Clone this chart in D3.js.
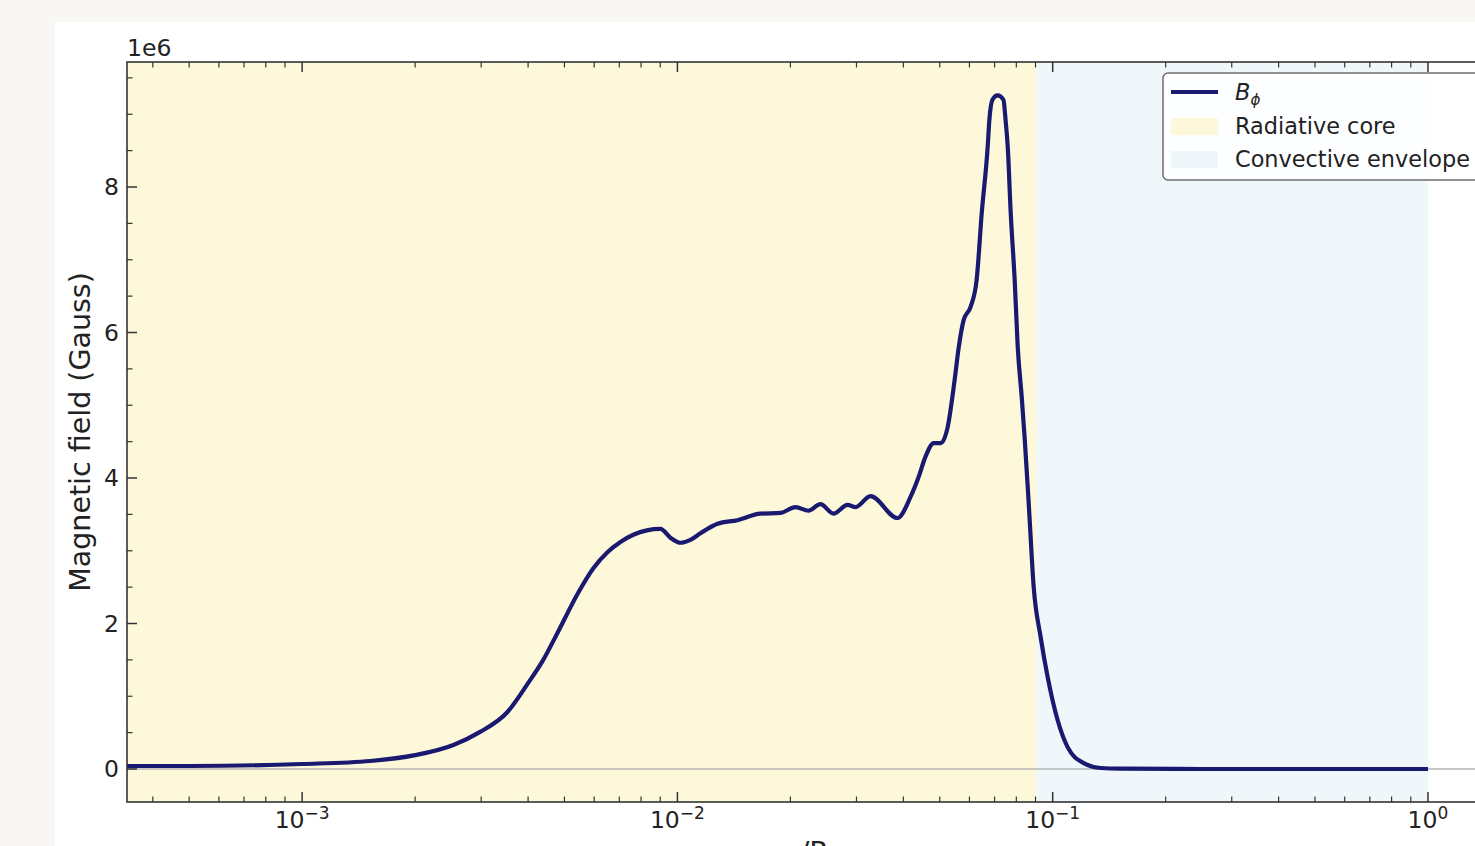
<!DOCTYPE html>
<html>
<head>
<meta charset="utf-8">
<script src="https://cdn.jsdelivr.net/npm/d3@7/dist/d3.min.js"></script>
<style>
  html, body { margin: 0; padding: 0; background: #f8f7f3; }
  svg { display: block; font-family: "DejaVu Sans", sans-serif; }
</style>
</head>
<body>
<svg id="chart" width="1475" height="846"></svg>
<script>
// Toroidal field profile B_phi against fractional radius r/R
const radius = [
  3.41e-4, 5.03e-4, 1.0e-3, 1.52e-3, 2.0e-3, 2.53e-3, 2.98e-3, 3.52e-3, 4.0e-3, 4.39e-3,
  4.79e-3, 5.45e-3, 5.97e-3, 6.51e-3, 7.05e-3, 7.63e-3, 9.01e-3, 9.58e-3, 1.019e-2, 1.083e-2,
  1.152e-2, 1.279e-2, 1.445e-2, 1.665e-2, 1.882e-2, 2.064e-2, 2.235e-2, 2.405e-2, 2.606e-2, 2.84e-2,
  2.983e-2, 3.27e-2, 3.86e-2, 4.18e-2, 4.39e-2, 4.58e-2, 4.82e-2, 5.03e-2, 5.25e-2, 5.48e-2,
  5.62e-2, 5.79e-2, 6.04e-2, 6.27e-2, 6.47e-2, 6.71e-2, 6.78e-2, 6.91e-2, 7.13e-2, 7.39e-2,
  7.49e-2, 7.59e-2, 7.73e-2, 7.92e-2, 8.07e-2, 8.27e-2, 8.42e-2, 8.63e-2, 8.90e-2, 9.29e-2,
  9.70e-2, 0.1031, 0.1096, 0.1210, 0.1343, 0.1518, 0.25, 1.0
];
const bPhi = [
  0.041e6, 0.041e6, 0.069e6, 0.11e6, 0.19e6, 0.33e6, 0.51e6, 0.78e6, 1.18e6, 1.50e6,
  1.87e6, 2.43e6, 2.76e6, 2.98e6, 3.12e6, 3.22e6, 3.30e6, 3.18e6, 3.11e6, 3.15e6,
  3.24e6, 3.37e6, 3.42e6, 3.51e6, 3.52e6, 3.60e6, 3.55e6, 3.64e6, 3.51e6, 3.63e6,
  3.60e6, 3.75e6, 3.45e6, 3.74e6, 4.01e6, 4.29e6, 4.48e6, 4.48e6, 4.70e6, 5.35e6,
  5.80e6, 6.17e6, 6.35e6, 6.72e6, 7.64e6, 8.55e6, 8.92e6, 9.20e6, 9.26e6, 9.20e6,
  8.92e6, 8.55e6, 7.64e6, 6.72e6, 5.80e6, 5.11e6, 4.55e6, 3.66e6, 2.50e6, 1.81e6,
  1.26e6, 0.67e6, 0.30e6, 0.08e6, 0.014e6, 0.005e6, 0.0, 0.0
];

// Zone boundaries (fractional radius)
const coreEdge = 0.0906;
const surface = 1.0;

// Tick definitions
const xMajorExps = [-3, -2, -1, 0];
const yMajor = [0, 2e6, 4e6, 6e6, 8e6];
const yTickLabels = ["0", "2", "4", "6", "8"];
const yOffsetLabel = "1e6";
const legendLabels = ["Radiative core", "Convective envelope"];

const colLine = "#191970";
const colCore = "#fef8db";
const colEnv = "#f0f7fa";
const colAxis = "#333333";

const svg = d3.select("#chart");
const W = 1475, H = 846;

// white panel
svg.append("rect").attr("x", 55).attr("y", 22).attr("width", W - 55).attr("height", H - 22).attr("fill", "#ffffff");

const L = 127, T = 62, B = 802, R = 1490;

const x = d3.scaleLog().domain([Math.pow(10, -3.4667), Math.pow(10, 0.1653)]).range([L, R]);
const y = d3.scaleLinear().domain([-0.4536e6, 9.7183e6]).range([B, T]);

svg.append("clipPath").attr("id", "plotclip")
  .append("rect").attr("x", L).attr("y", T).attr("width", R - L).attr("height", B - T);

const plot = svg.append("g").attr("clip-path", "url(#plotclip)");

// shaded zones
const xd = x.domain();
plot.append("rect").attr("x", x(xd[0])).attr("y", T)
  .attr("width", x(coreEdge) - x(xd[0])).attr("height", B - T).attr("fill", colCore);
plot.append("rect").attr("x", x(coreEdge)).attr("y", T)
  .attr("width", x(surface) - x(coreEdge)).attr("height", B - T).attr("fill", colEnv);

// zero reference line
plot.append("line").attr("x1", L).attr("x2", R).attr("y1", y(0)).attr("y2", y(0))
  .attr("stroke", "#b4b4b4").attr("stroke-width", 1.5);

// field profile
const pts = radius.map((r, i) => [r, bPhi[i]]);
const line = d3.line().x(d => x(d[0])).y(d => y(d[1])).curve(d3.curveMonotoneX);
plot.append("path").attr("d", line(pts)).attr("fill", "none")
  .attr("stroke", colLine).attr("stroke-width", 4.2).attr("stroke-linejoin", "round");

// spines
const ax = svg.append("g");
ax.append("rect").attr("x", L).attr("y", T).attr("width", R - L).attr("height", B - T)
  .attr("fill", "none").attr("stroke", colAxis).attr("stroke-width", 1.6);

// x ticks (inward, top and bottom)
const majLen = 10, minLen = 5.5;
const xMinor = [];
for (let e = -4; e <= 0; e++) for (let k = 2; k <= 9; k++) {
  const v = k * Math.pow(10, e);
  if (v >= xd[0] && v <= xd[1]) xMinor.push(v);
}
xMinor.forEach(v => {
  const px = x(v);
  ax.append("line").attr("x1", px).attr("x2", px).attr("y1", B).attr("y2", B - minLen).attr("stroke", colAxis).attr("stroke-width", 1.2);
  ax.append("line").attr("x1", px).attr("x2", px).attr("y1", T).attr("y2", T + minLen).attr("stroke", colAxis).attr("stroke-width", 1.2);
});
xMajorExps.forEach(e => {
  const px = x(Math.pow(10, e));
  ax.append("line").attr("x1", px).attr("x2", px).attr("y1", B).attr("y2", B - majLen).attr("stroke", colAxis).attr("stroke-width", 1.5);
  ax.append("line").attr("x1", px).attr("x2", px).attr("y1", T).attr("y2", T + majLen).attr("stroke", colAxis).attr("stroke-width", 1.5);
  const t = ax.append("text").attr("x", px).attr("y", 828).attr("text-anchor", "middle")
    .attr("font-size", 23.5).attr("fill", "#222");
  t.append("tspan").text("10");
  t.append("tspan").attr("font-size", 17).attr("dy", -9).text(e === 0 ? "0" : "\u2212" + Math.abs(e));
});

// y ticks
const yd = y.domain();
for (let v = Math.ceil(yd[0] / 0.5e6) * 0.5e6; v <= yd[1]; v += 0.5e6) {
  if (Math.abs(v / 2e6 - Math.round(v / 2e6)) < 1e-9) continue;
  ax.append("line").attr("x1", L).attr("x2", L + minLen).attr("y1", y(v)).attr("y2", y(v)).attr("stroke", colAxis).attr("stroke-width", 1.2);
}
yMajor.forEach((v, i) => {
  ax.append("line").attr("x1", L).attr("x2", L + majLen).attr("y1", y(v)).attr("y2", y(v)).attr("stroke", colAxis).attr("stroke-width", 1.5);
  ax.append("text").attr("x", L - 8).attr("y", y(v)).attr("dy", "0.36em").attr("text-anchor", "end")
    .attr("font-size", 23.5).attr("fill", "#222").text(yTickLabels[i]);
});

// offset label
ax.append("text").attr("x", L).attr("y", 56).attr("font-size", 23.5).attr("fill", "#222").text(yOffsetLabel);

// axis titles
ax.append("text").attr("transform", `translate(90,${(T + B) / 2}) rotate(-90)`)
  .attr("text-anchor", "middle").attr("font-size", 28.5).attr("fill", "#222").text("Magnetic field (Gauss)");
ax.append("text").attr("x", (L + R) / 2).attr("y", 862).attr("text-anchor", "middle")
  .attr("font-size", 28.5).attr("fill", "#222").text("r/R");

// legend
const lg = svg.append("g");
lg.append("rect").attr("x", 1163).attr("y", 73).attr("width", 340).attr("height", 107).attr("rx", 5)
  .attr("fill", "#ffffff").attr("fill-opacity", 0.85).attr("stroke", "#6e6e6e").attr("stroke-width", 1.5);
lg.append("line").attr("x1", 1171).attr("x2", 1218).attr("y1", 92).attr("y2", 92)
  .attr("stroke", colLine).attr("stroke-width", 4.2);
const bl = lg.append("text").attr("x", 1235).attr("y", 100).attr("font-size", 22.4).attr("fill", "#222");
bl.append("tspan").attr("font-style", "italic").text("B");
bl.append("tspan").attr("font-style", "italic").attr("font-size", 15).attr("dy", 5).text("\u03d5");
lg.append("rect").attr("x", 1171).attr("y", 118).attr("width", 47).attr("height", 17).attr("fill", colCore);
lg.append("text").attr("x", 1235).attr("y", 134).attr("font-size", 22.4).attr("fill", "#222").text(legendLabels[0]);
lg.append("rect").attr("x", 1171).attr("y", 151).attr("width", 47).attr("height", 17).attr("fill", colEnv);
lg.append("text").attr("x", 1235).attr("y", 167).attr("font-size", 22.4).attr("fill", "#222").text(legendLabels[1]);
</script>
</body>
</html>
